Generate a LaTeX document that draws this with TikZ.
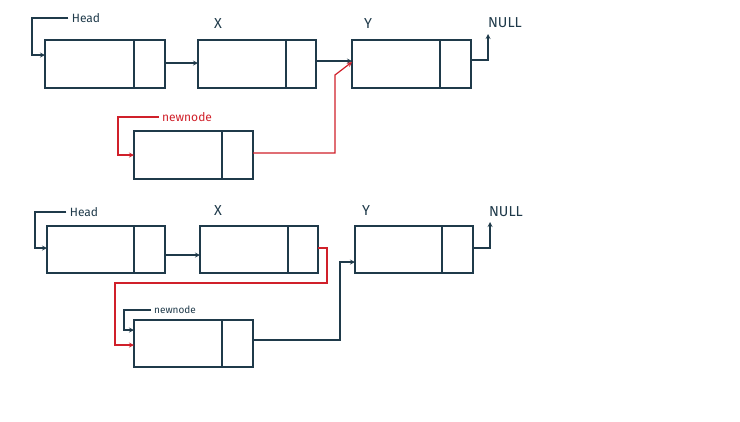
\documentclass[tikz,border=0pt]{standalone}
\usepackage{fontspec}
\setmainfont{Fira Sans}
\begin{document}
\begin{tikzpicture}[x=1pt,y=-1pt,
  bx/.style={draw=dk,line width=2pt},
  ln/.style={draw=dk,line width=1.2pt},
  ar/.style={ln,-stealth},
  rar/.style={draw=rd,line width=1.2pt,-stealth},
  lab/.style={text=dk,font=\Large}]
\definecolor{dk}{HTML}{1F3A4A}
\definecolor{rd}{HTML}{D0202A}
\useasboundingbox (0,0) rectangle (740,421);
% top
\draw[bx] (45,40) rectangle (165,88) (134,40) -- (134,88);
\draw[bx] (198,40) rectangle (316,88) (286,40) -- (286,88);
\draw[bx] (352,40) rectangle (471,88) (440,40) -- (440,88);
\draw[bx] (134,131) rectangle (253,179) (222,131) -- (222,179);
\node[lab,font=\large] (h1) at (86,18) {Head};
\node[lab] (x1) at (218,24) {X};
\node[lab] (y1) at (368,24) {Y};
\node[lab] (n1) at (505,23) {NULL};
\node[text=rd,font=\large] (nn1) at (187,117) {newnode};
\draw[ar] (h1.west) -- (32,18) -- (32,55) -- (45,55);
\draw[ar] (165,63) -- (198,63);
\draw[ar] (316,61) -- (352,61);
\draw[ar] (471,60) -- (488,60) -- (488,34);
\draw[rar] (nn1.west) -- (118,117) -- (118,155) -- (134,155);
\draw[rar] (253,153) -- (335,153) -- (335,75) -- (352,62);
% bottom
\draw[bx] (47,226) rectangle (165,273) (134,226) -- (134,273);
\draw[bx] (200,226) rectangle (318,273) (288,226) -- (288,273);
\draw[bx] (355,226) rectangle (473,273) (442,226) -- (442,273);
\draw[bx] (134,320) rectangle (253,367) (222,320) -- (222,367);
\node[lab,font=\large] (h2) at (84,212) {Head};
\node[lab] (x2) at (218,211) {X};
\node[lab] (y2) at (366,211) {Y};
\node[lab] (n2) at (506,212) {NULL};
\node[lab,font=\normalsize] (nn2) at (175,310) {newnode};
\draw[ar] (h2.west) -- (35,212) -- (35,248) -- (47,248);
\draw[ar] (165,255) -- (200,255);
\draw[ar] (473,248) -- (490,248) -- (490,222);
\draw[rar] (318,248) -- (327,248) -- (327,283) -- (115,283) -- (115,345) -- (134,345);
\draw[ar] (nn2.west) -- (124,310) -- (124,330) -- (134,330);
\draw[ar] (253,340) -- (340,340) -- (340,262) -- (355,262);
\end{tikzpicture}
\end{document}
